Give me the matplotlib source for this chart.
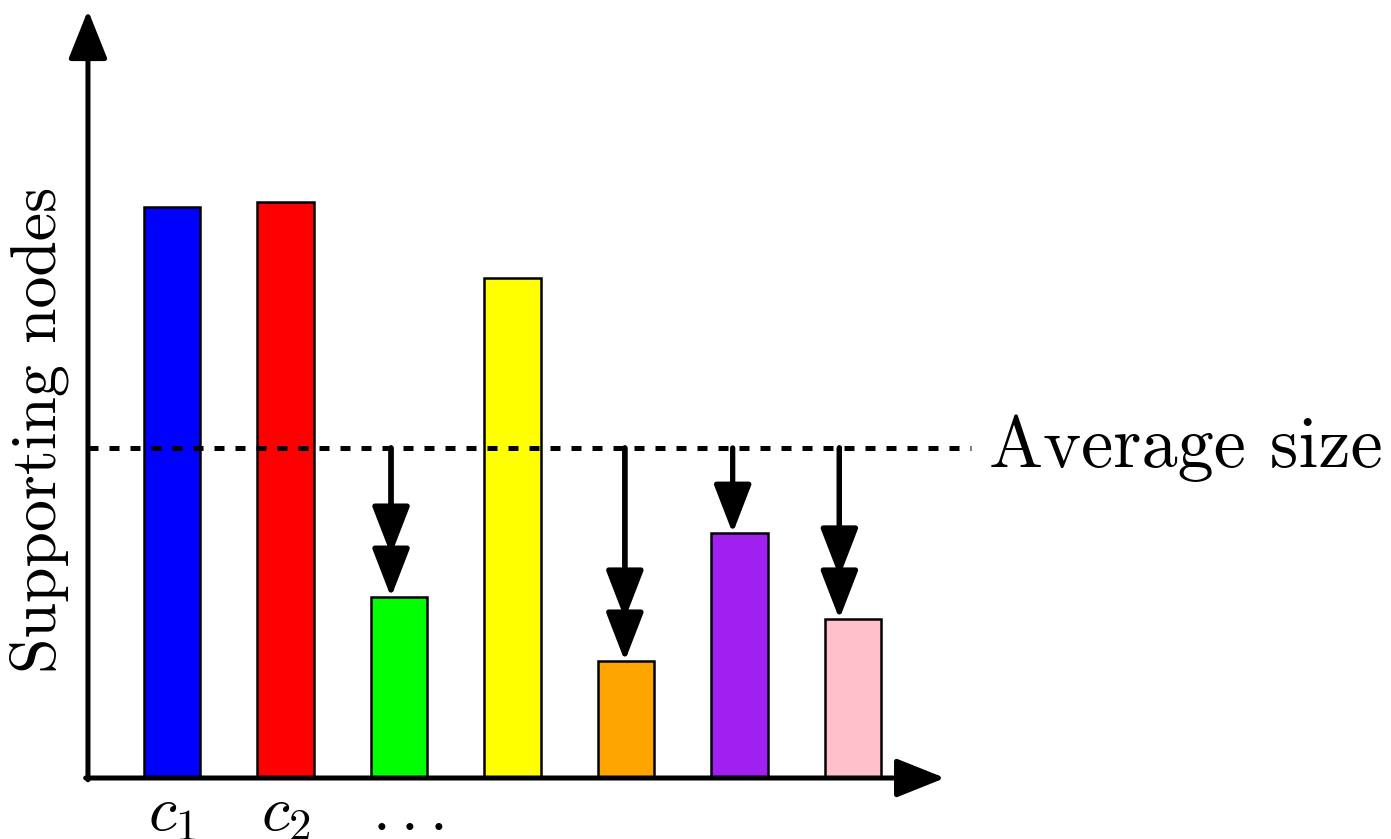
import matplotlib.pyplot as plt

plt.rcParams['mathtext.fontset'] = 'cm'

# bar heights (arbitrary units)
heights = [99.1, 100.0, 31.4, 86.8, 20.3, 42.5, 27.6]
colors = ['blue', 'red', 'lime', 'yellow', 'orange', '#A020F0', 'pink']
tick_labels = [r'$c_1$', r'$c_2$', r'$...$']
label_x = [1.0, 2.0, 3.08]
avg_size = 57.3
# bars that get pushed down to the average: arrow x, and how many heads
arrow_bars = [2, 4, 5, 6]
arrow_x = [2.93, 4.99, 5.94, 6.88]
arrow_heads = [2, 2, 1, 2]

xs = list(range(1, len(heights) + 1))

fig = plt.figure(figsize=(13.91, 8.39), dpi=100)
ax = fig.add_axes([0, 0, 1, 1])
ax.set_xlim(-0.515, 11.74)
ax.set_ylim(-10.59, 135.07)
ax.axis('off')

ax.bar(xs, heights, width=0.5, color=colors, edgecolor='black', linewidth=1.8, zorder=2)

# axes with arrow tips
x0, y0 = 0.26, 0.0
head = dict(arrowstyle='-|>,head_length=1.5,head_width=0.6', lw=3.6, color='black',
            shrinkA=0, shrinkB=0, mutation_scale=20, joinstyle='round')
ax.annotate('', xy=(7.81, y0), xytext=(x0 - 0.02, y0), arrowprops=head, zorder=4)
ax.annotate('', xy=(x0, 133.3), xytext=(x0, y0 - 0.3), arrowprops=head, zorder=4)

# average line
ax.plot([x0, 8.04], [avg_size, avg_size], color='black', lw=3.6,
        linestyle=(0, (2.0, 2.2)), dash_capstyle='butt', zorder=3)
ax.text(8.2, avg_size, 'Average size', fontsize=52, va='center', ha='left',
        family='cmr10')

# arrows from the average down to the small bars
head_len = 7.3
for i, x, n in zip(arrow_bars, arrow_x, arrow_heads):
    top = heights[i]
    for k in range(n):
        ax.annotate('', xy=(x, top + k * head_len), xytext=(x, avg_size),
                    arrowprops=dict(arrowstyle='-|>,head_length=1.5,head_width=0.58',
                                    lw=3.8, color='black', shrinkA=0, shrinkB=0,
                                    mutation_scale=20), zorder=4)

# category labels
for x, lab in zip(label_x, tick_labels):
    ax.text(x, -9.0, lab, fontsize=46, ha='center', va='baseline')

ax.text(-0.17, 60.4, 'Supporting nodes', fontsize=46, rotation=90, va='center',
        ha='center', family='cmr10')

fig.savefig('out.png', dpi=100)
